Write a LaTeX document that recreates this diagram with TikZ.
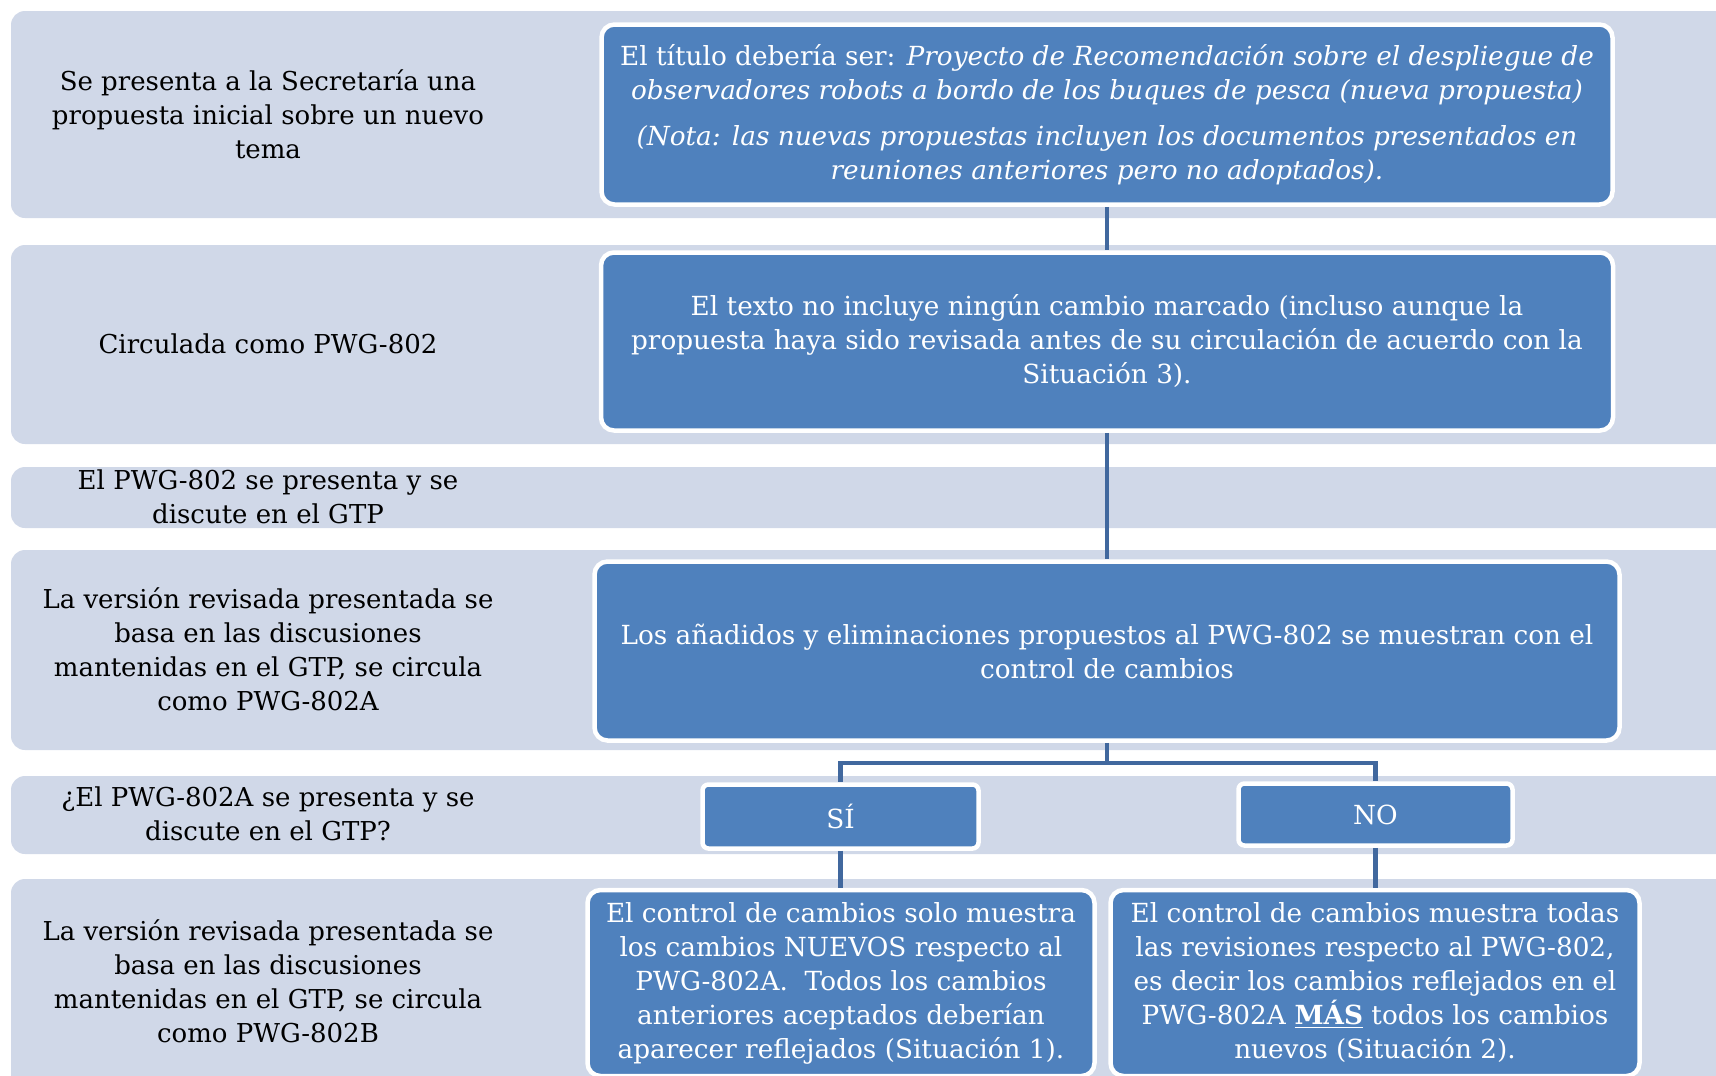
\documentclass[tikz,border=0pt]{standalone}
\usepackage{fontspec}
\setmainfont{DejaVu Serif}
\definecolor{bandc}{HTML}{D0D8E8}
\definecolor{boxc}{HTML}{4F81BD}
\definecolor{connc}{HTML}{41689E}
\begin{document}
\begin{tikzpicture}[x=1pt,y=-1pt,
  band/.style={fill=bandc, rounded corners=14pt},
  bluebox/.style={draw=white, line width=4.5pt, fill=boxc, rounded corners=13pt,
    text=white, align=center, inner sep=0pt, font=\fontsize{26.3}{34}\selectfont},
  smallbox/.style={bluebox, rounded corners=6pt},
  lbl/.style={align=center, inner sep=0pt, text=black, font=\fontsize{26}{34}\selectfont},
  conn/.style={draw=connc, line width=4.5pt}]
\useasboundingbox (0,0) rectangle (1716,1076);
\fill[white] (0,0) rectangle (1716,1076);
\clip (0,0) rectangle (1716,1076);
% bands
\fill[band] (11,11) rectangle (1760,218);
\fill[band] (11,245) rectangle (1760,444);
\fill[band] (11,467) rectangle (1760,528);
\fill[band] (11,550) rectangle (1760,750);
\fill[band] (11,776) rectangle (1760,854);
\fill[band] (11,879) rectangle (1760,1100);
% left labels
\node[lbl] (l1) at (268,114) {Se presenta a la Secretaría una\\propuesta inicial sobre un nuevo\\tema};
\node[lbl] (l2) at (268,344) {Circulada como PWG-802};
\node[lbl] (l3) at (268,497) {El PWG-802 se presenta y se\\discute en el GTP};
\node[lbl] (l4) at (268,649) {La versión revisada presentada se\\basa en las discusiones\\mantenidas en el GTP, se circula\\como PWG-802A};
\node[lbl] (l5) at (268,814) {¿El PWG-802A se presenta y se\\discute en el GTP?};
\node[lbl] (l6) at (268,981) {La versión revisada presentada se\\basa en las discusiones\\mantenidas en el GTP, se circula\\como PWG-802B};
% blue boxes
\node[bluebox, minimum width=1011pt, minimum height=180pt] (b1) at (1107,114.5)
  {El título debería ser: \textit{Proyecto de Recomendación sobre el despliegue de}\\
   \textit{observadores robots a bordo de los buques de pesca (nueva propuesta)}\\[12pt]
   \textit{(Nota: las nuevas propuestas incluyen los documentos presentados en}\\
   \textit{reuniones anteriores pero no adoptados).}};
\node[bluebox, minimum width=1012pt, minimum height=178pt] (b2) at (1107,341.5)
  {El texto no incluye ningún cambio marcado (incluso aunque la\\
   propuesta haya sido revisada antes de su circulación de acuerdo con la\\
   Situación 3).};
\node[bluebox, minimum width=1025pt, minimum height=179pt] (b3) at (1107,651)
  {Los añadidos y eliminaciones propuestos al PWG-802 se muestran con el\\
   control de cambios};
\node[smallbox, minimum width=276pt, minimum height=64pt] (si) at (840.5,816.5) {SÍ};
\node[smallbox, minimum width=274pt, minimum height=62pt] (no) at (1375.5,814.5) {NO};
\node[bluebox, minimum width=507pt, minimum height=186pt] (sid) at (841,983)
  {El control de cambios solo muestra\\
   los cambios NUEVOS respecto al\\
   PWG-802A.\ \ Todos los cambios\\
   anteriores aceptados deberían\\
   aparecer reflejados (Situación 1).};
\node[bluebox, minimum width=529pt, minimum height=186pt] (nod) at (1375,983)
  {El control de cambios muestra todas\\
   las revisiones respecto al PWG-802,\\
   es decir los cambios reflejados en el\\
   PWG-802A \textbf{\underline{MÁS}} todos los cambios\\
   nuevos (Situación 2).};
% connectors
\draw[conn] (b1.south) -- (b2.north);
\draw[conn] (b2.south) -- (b3.north);
\coordinate (split) at ([yshift=-20pt]b3.south);
\draw[conn] (b3.south) -- (split) -| (si.north);
\draw[conn] (split) -| (no.north);
\draw[conn] (si.south) -- (si.south |- sid.north);
\draw[conn] (no.south) -- (no.south |- nod.north);
\end{tikzpicture}
\end{document}
